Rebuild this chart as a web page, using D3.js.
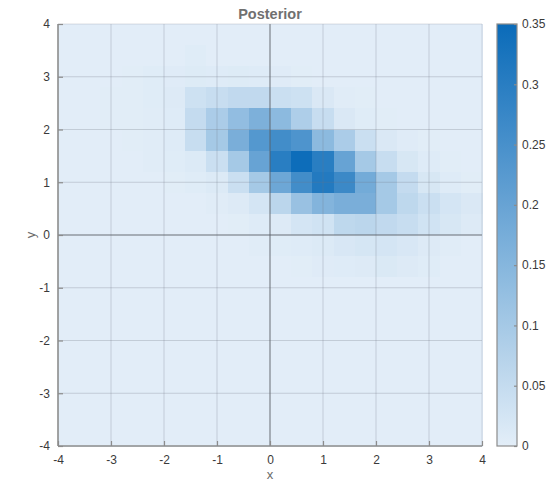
<!DOCTYPE html>
<html>
<head>
<meta charset="utf-8">
<script src="https://cdn.jsdelivr.net/npm/d3@7"></script>
<style>
  html, body { margin: 0; padding: 0; background: #fff; }
  svg { display: block; font-family: "Liberation Sans", Arial, sans-serif; }
</style>
</head>
<body>
<svg id="chart" width="559" height="485"></svg>
<script>
// Bin edges of the 20 x 20 posterior grid (x and y both span -4..4 in steps of 0.4)
const xEdges = d3.range(21).map(i => -4 + 0.4 * i);
const yEdges = d3.range(21).map(i => 4 - 0.4 * i);   // top row first
const xTicks = [-4, -3, -2, -1, 0, 1, 2, 3, 4];
const yTicks = [-4, -3, -2, -1, 0, 1, 2, 3, 4];
const cbarTicks = [0, 0.05, 0.1, 0.15, 0.2, 0.25, 0.3, 0.35];

// Posterior mass per cell; each row runs x = -4 .. 4, rows go from y = 4 down to y = -4
const b = 0.002;
const row00 = [b,b,b,b,b,b,b,b,b,b,b,b,b,b,b,b,b,b,b,b];
const row01 = [b,b,b,b,b,b,0.006,b,b,b,b,b,b,b,b,b,b,b,b,b];
const row02 = [b,b,b,0.004,0.006,0.007,0.009,0.008,0.009,0.008,0.007,0.004,b,b,b,b,b,b,b,b];
const row03 = [b,b,0.003,0.004,0.006,0.01,0.035,0.045,0.055,0.055,0.04,0.035,0.015,0.005,0.003,b,b,b,b,b];
const row04 = [b,b,0.003,0.004,0.005,0.008,0.05,0.09,0.13,0.165,0.14,0.085,0.045,0.015,0.006,0.003,b,b,b,b];
const row05 = [b,b,b,0.004,0.005,0.008,0.045,0.1,0.17,0.23,0.26,0.24,0.14,0.09,0.04,0.015,0.007,0.003,b,b];
const row06 = [b,b,b,b,0.005,0.006,0.012,0.04,0.1,0.2,0.3,0.345,0.3,0.2,0.1,0.045,0.02,0.008,0.004,b];
const row07 = [b,b,b,b,b,0.004,0.006,0.012,0.04,0.1,0.19,0.26,0.31,0.27,0.18,0.1,0.05,0.02,0.008,0.004];
const row08 = [b,b,b,b,b,b,b,0.005,0.01,0.025,0.065,0.12,0.155,0.17,0.17,0.1,0.06,0.04,0.025,0.015];
const row09 = [b,b,b,b,b,b,b,b,0.004,0.008,0.01,0.025,0.03,0.06,0.065,0.055,0.045,0.03,0.02,0.01];
const row10 = [b,b,b,b,b,b,b,b,b,0.005,0.006,0.008,0.012,0.018,0.022,0.025,0.018,0.01,0.005,b];
const row11 = [b,b,b,b,b,b,b,b,b,b,b,0.004,0.007,0.008,0.01,0.014,0.01,0.006,b,b];
const row12 = [b,b,b,b,b,b,b,b,b,b,b,b,b,b,b,b,b,b,b,b];
const row13 = row12, row14 = row12, row15 = row12, row16 = row12,
      row17 = row12, row18 = row12, row19 = row12;
const density = [row00,row01,row02,row03,row04,row05,row06,row07,row08,row09,
                 row10,row11,row12,row13,row14,row15,row16,row17,row18,row19];

const svg = d3.select("#chart");
const plot = { left: 58, right: 482, top: 24, bottom: 446 };
const cbar = { left: 497, right: 517, top: 24, bottom: 446 };

const x = d3.scaleLinear().domain([-4, 4]).range([plot.left, plot.right]);
const y = d3.scaleLinear().domain([-4, 4]).range([plot.bottom, plot.top]);
const color = d3.scaleLinear().domain([0, 0.35])
  .range(["#e3eef8", "#0a6bb9"]).interpolate(d3.interpolateRgb).clamp(true);

// heatmap cells
const cells = [];
density.forEach((row, r) => row.forEach((v, c) => cells.push({ r, c, v })));
svg.append("g").attr("shape-rendering", "crispEdges")
  .selectAll("rect").data(cells).join("rect")
  .attr("x", d => x(xEdges[d.c]))
  .attr("y", d => y(yEdges[d.r]))
  .attr("width", d => x(xEdges[d.c + 1]) - x(xEdges[d.c]) + 0.6)
  .attr("height", d => y(yEdges[d.r + 1]) - y(yEdges[d.r]) + 0.6)
  .attr("fill", d => color(d.v));

// grid lines over the cells
const grid = svg.append("g");
grid.selectAll("line.gx").data(xTicks.slice(1, -1).filter(t => t !== 0)).join("line")
  .attr("x1", d => x(d)).attr("x2", d => x(d))
  .attr("y1", plot.top).attr("y2", plot.bottom)
  .attr("stroke", "rgba(110,120,130,0.28)").attr("stroke-width", 1);
grid.selectAll("line.gy").data(yTicks.slice(1, -1).filter(t => t !== 0)).join("line")
  .attr("y1", d => y(d)).attr("y2", d => y(d))
  .attr("x1", plot.left).attr("x2", plot.right)
  .attr("stroke", "rgba(110,120,130,0.28)").attr("stroke-width", 1);

// zero cross-hair lines
grid.append("line").attr("x1", x(0)).attr("x2", x(0)).attr("y1", plot.top).attr("y2", plot.bottom)
  .attr("stroke", "rgba(90,95,100,0.6)").attr("stroke-width", 1.5);
grid.append("line").attr("y1", y(0)).attr("y2", y(0)).attr("x1", plot.left).attr("x2", plot.right)
  .attr("stroke", "rgba(90,95,100,0.6)").attr("stroke-width", 1.5);

// faint top and right frame
grid.append("line").attr("x1", plot.left).attr("x2", plot.right).attr("y1", plot.top).attr("y2", plot.top)
  .attr("stroke", "rgba(140,150,160,0.3)");
grid.append("line").attr("x1", plot.right).attr("x2", plot.right).attr("y1", plot.top).attr("y2", plot.bottom)
  .attr("stroke", "rgba(140,150,160,0.3)");

// axes with inward ticks; plain hyphen for negative labels
const fmt = d => String(d);
const xAxis = d3.axisBottom(x).tickValues(xTicks).tickSize(-5).tickPadding(9).tickFormat(fmt);
const yAxis = d3.axisLeft(y).tickValues(yTicks).tickSize(-5).tickPadding(8).tickFormat(fmt);

function styleAxis(g) {
  g.select(".domain").attr("stroke", "#8c8c8c").attr("stroke-width", 1.6);
  g.selectAll(".tick line").attr("stroke", "#8c8c8c").attr("stroke-width", 1.2);
  g.selectAll(".tick text").attr("fill", "#3a3a3a").attr("font-size", 12)
    .style("font-family", "'Liberation Sans', Arial, sans-serif");
}
svg.append("g").attr("transform", `translate(0,${plot.bottom})`).call(xAxis)
  .call(g => g.select(".domain").attr("d", `M${plot.left},0H${plot.right}`)).call(styleAxis);
svg.append("g").attr("transform", `translate(${plot.left},0)`).call(yAxis)
  .call(g => g.select(".domain").attr("d", `M0,${plot.top}V${plot.bottom}`)).call(styleAxis);

// title and axis labels
svg.append("text").attr("x", (plot.left + plot.right) / 2).attr("y", 19)
  .attr("text-anchor", "middle").attr("font-size", 14.5).attr("font-weight", "bold")
  .attr("fill", "#707070").text("Posterior");
svg.append("text").attr("x", (plot.left + plot.right) / 2).attr("y", 479)
  .attr("text-anchor", "middle").attr("font-size", 13).attr("fill", "#6a6a6a").text("x");
svg.append("text").attr("transform", `translate(35,${(plot.top + plot.bottom) / 2}) rotate(-90)`)
  .attr("text-anchor", "middle").attr("font-size", 13).attr("fill", "#6a6a6a").text("y");

// colorbar
const cScale = d3.scaleLinear().domain([0, 0.35]).range([cbar.bottom, cbar.top]);
const defs = svg.append("defs");
const grad = defs.append("linearGradient").attr("id", "cbgrad")
  .attr("x1", 0).attr("y1", 1).attr("x2", 0).attr("y2", 0);
d3.range(0, 1.0001, 0.1).forEach(t => {
  grad.append("stop").attr("offset", t).attr("stop-color", color(t * 0.35));
});
svg.append("rect").attr("x", cbar.left).attr("y", cbar.top)
  .attr("width", cbar.right - cbar.left).attr("height", cbar.bottom - cbar.top)
  .attr("fill", "url(#cbgrad)").attr("stroke", "#8c8c8c").attr("stroke-width", 1.2);
const cAxis = d3.axisRight(cScale).tickValues(cbarTicks).tickSize(-3).tickPadding(5)
  .tickFormat(d => d === 0 ? "0" : String(+d.toFixed(2)));
svg.append("g").attr("transform", `translate(${cbar.right},0)`).call(cAxis)
  .call(g => g.select(".domain").remove()).call(styleAxis);
</script>
</body>
</html>
